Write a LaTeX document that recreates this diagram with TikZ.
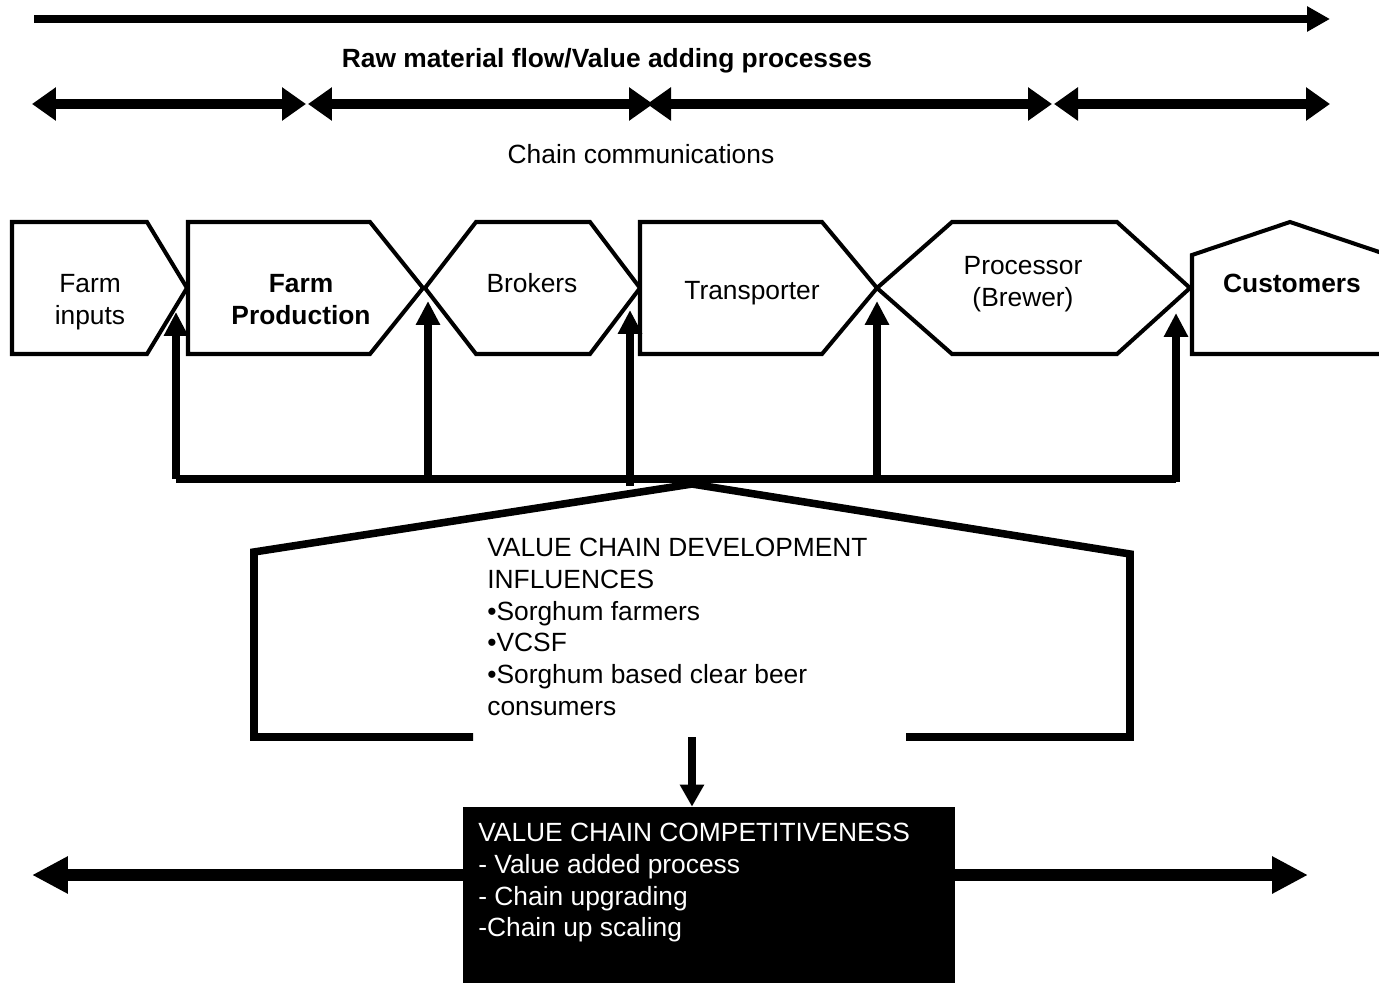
\documentclass[tikz,border=0pt]{standalone}
\usepackage{fontspec}
\setmainfont{Liberation Sans}
\usepackage{tikz}
\usetikzlibrary{arrows.meta}

\begin{document}
\fontsize{15}{18.14}\selectfont
\begin{tikzpicture}[x=0.02cm,y=-0.02cm,
	every node/.style={inner sep=0pt},
	stage/.style={draw,line width=2.3pt,line join=miter,fill=white},
	flowarrow/.style={line width=4.5pt,-{Triangle[length=0.46cm,width=0.48cm]}},
	commarrow/.style={line width=5.5pt,{Triangle[length=0.48cm,width=0.64cm]}-{Triangle[length=0.48cm,width=0.64cm]}},
	uparrow/.style={line width=4.5pt,-{Triangle[length=0.48cm,width=0.46cm]}},
	downarrow/.style={line width=4.2pt,-{Triangle[length=0.44cm,width=0.46cm]}},
	sidearrow/.style={line width=6.8pt,-{Triangle[length=0.72cm,width=0.70cm]}},
	bracket/.style={line width=4.3pt,line join=miter}]
	\useasboundingbox (0,0) rectangle (1379,983);
	\clip (0,0) rectangle (1379,983);

	% raw material flow
	\coordinate (fstart) at (34,19);
	\coordinate (fend) at (1330,19);
	\draw[flowarrow] (fstart) -- (fend);
	\node[anchor=base,font=\bfseries] (title) at (607,68)
	{Raw material flow/Value adding processes};

	% chain communications
	\coordinate (c0) at (32,104);
	\coordinate (c1) at (306,104);
	\coordinate (c2) at (308,104);
	\coordinate (c3) at (653,104);
	\coordinate (c4) at (647,104);
	\coordinate (c5) at (1052,104);
	\coordinate (c6) at (1054,104);
	\coordinate (c7) at (1330,104);
	\draw[commarrow] (c0) -- (c1);
	\draw[commarrow] (c2) -- (c3);
	\draw[commarrow] (c4) -- (c5);
	\draw[commarrow] (c6) -- (c7);
	\node[anchor=base] (comm) at (641,164) {Chain communications};

	% chain actors
	\draw[stage] (12,222) -- (147,222) -- (187,288) -- (147,354) -- (12,354) -- cycle;
	\draw[stage] (188,222) -- (370,222) -- (423,288) -- (370,354) -- (188,354) -- cycle;
	\draw[stage] (425,288) -- (476,222) -- (590,222) -- (640,288) -- (590,354) -- (476,354) -- cycle;
	\draw[stage] (640,222) -- (822,222) -- (877,288) -- (822,354) -- (640,354) -- cycle;
	\draw[stage] (877,288) -- (952,222) -- (1117,222) -- (1190,288) -- (1117,354) -- (952,354) -- cycle;
	\draw[stage] (1192,255) -- (1290,222) -- (1388,255) -- (1388,354) -- (1192,354) -- cycle;

	\node[anchor=north,align=center] (inputs) at (90,274.5) {Farm\\inputs};
	\node[anchor=north,align=center,font=\bfseries] (prod) at (301,274.5) {Farm\\Production};
	\node[anchor=base] (brokers) at (532,293) {Brokers};
	\node[anchor=base] (transp) at (752,299) {Transporter};
	\node[anchor=north,align=center] (proc) at (1023,256.5) {Processor\\(Brewer)};
	\node[anchor=base,font=\bfseries] (cust) at (1292,293) {Customers};

	% influences feeding the actors
	\coordinate (b1) at (176,479);
	\coordinate (b2) at (428,481);
	\coordinate (b3) at (630,486);
	\coordinate (b4) at (877,479);
	\coordinate (b5) at (1176,482);
	\coordinate (t1) at (176,312);
	\coordinate (t2) at (428,301);
	\coordinate (t3) at (630,310);
	\coordinate (t4) at (877,301);
	\coordinate (t5) at (1176,313);
	\draw[bracket] (176,479) -- (1176,479);
	\draw[uparrow] (b1) -- (t1);
	\draw[uparrow] (b2) -- (t2);
	\draw[uparrow] (b3) -- (t3);
	\draw[uparrow] (b4) -- (t4);
	\draw[uparrow] (b5) -- (t5);

	% development influences
	\coordinate (apex) at (692,484);
	\draw[bracket] (473,737) -- (254,737) -- (254,552) -- (apex)
		-- (1130,554) -- (1130,737) -- (906,737);
	\node[anchor=north west,align=left] (infl) at (487,537.5)
	{VALUE CHAIN DEVELOPMENT\\INFLUENCES\\•Sorghum farmers\\•VCSF\\•Sorghum based clear beer\\consumers};

	% competitiveness
	\node[fill=black,minimum width=9.84cm,minimum height=3.6cm] (box) at (709,897) {};
	\node[anchor=north west,align=left,text=white] (boxtext) at (478,822.5)
	{VALUE CHAIN COMPETITIVENESS\\- Value added process\\- Chain upgrading\\-Chain up scaling};
	\coordinate (dtop) at (692,737);
	\draw[downarrow] (dtop) -- (dtop |- box.north);
	\coordinate (ltip) at (32,875);
	\coordinate (rtip) at (1308,875);
	\draw[sidearrow] (ltip -| box.west) -- (ltip);
	\draw[sidearrow] (rtip -| box.east) -- (rtip);
\end{tikzpicture}
\end{document}
